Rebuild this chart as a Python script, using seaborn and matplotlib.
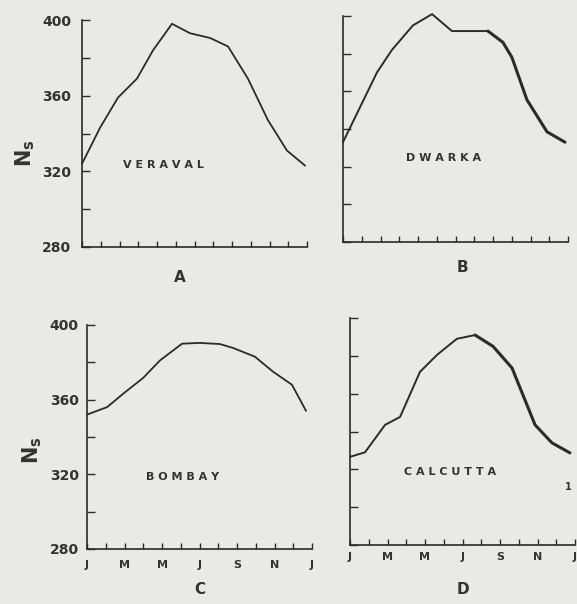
import matplotlib
matplotlib.use('Agg')
import matplotlib.pyplot as plt
import pandas as pd
import seaborn as sns

# ---- data ----
month_ticks = list(range(13))
month_labels = ['J', '', 'M', '', 'M', '', 'J', '', 'S', '', 'N', '', 'J']
y_ticks = [280, 300, 320, 340, 360, 380, 400]
y_labels = ['280', '', '320', '', '360', '', '400']

veraval_month = [0, 0.96, 1.92, 2.93, 3.79, 4.8, 5.76, 6.83, 7.79, 8.85, 9.92, 10.93, 11.9]
veraval_ns = [324, 343, 359, 369, 384, 398, 393, 390.5, 386, 369, 347, 331, 323]

dwarka_month = [0, 1.81, 2.61, 3.73, 4.75, 5.81, 7.73, 8.53, 9.01, 9.81, 10.88, 11.84]
dwarka_ns = [333, 370, 382, 395, 401, 392, 392, 386, 378, 355.5, 338.5, 333]

bombay_month = [0, 1.07, 2.03, 2.99, 3.89, 5.07, 6.03, 7.09, 7.79, 8.96, 9.92, 10.93, 11.36, 11.68]
bombay_ns = [352, 356, 364, 371.6, 381, 390, 390.4, 389.8, 387.7, 383, 375, 368, 360, 354]

calcutta_month = [0, 0.8, 1.87, 2.67, 3.73, 4.64, 5.7, 6.67, 7.63, 8.64, 9.87, 10.77, 11.73]
calcutta_ns = [326.6, 329, 343.5, 347.7, 371.5, 380.5, 389, 391, 385, 373.6, 343.5, 334, 328.7]

stations = ['VERAVAL', 'DWARKA', 'BOMBAY', 'CALCUTTA']
panel_letters = ['A', 'B', 'C', 'D']

# ---- style ----
sns.set_style('ticks')
plt.rcParams['font.family'] = ['DejaVu Sans']
BG = '#e9e9e7'
INK = '#2b2b2b'

W, H = 577, 604
fig = plt.figure(figsize=(W / 100, H / 100), dpi=100, facecolor=BG)


def px_rect(left, right, top, bottom):
    return [left / W, 1 - bottom / H, (right - left) / W, (bottom - top) / H]


axA = fig.add_axes(px_rect(82, 307, 20, 247))
axB = fig.add_axes(px_rect(343, 568, 16, 242))
axC = fig.add_axes(px_rect(87, 312, 325, 549))
axD = fig.add_axes(px_rect(350, 575, 318, 545))

series = [
    (axA, veraval_month, veraval_ns, None),
    (axB, dwarka_month, dwarka_ns, 6),
    (axC, bombay_month, bombay_ns, None),
    (axD, calcutta_month, calcutta_ns, 7),
]

line_kw = dict(color=INK, sort=False, clip_on=False,
               solid_capstyle='round', solid_joinstyle='round')

for i, (ax, mx, ns, thick_from) in enumerate(series):
    ax.set_facecolor(BG)
    df = pd.DataFrame({'month': mx, 'Ns': ns})
    if thick_from is None:
        sns.lineplot(data=df, x='month', y='Ns', ax=ax, lw=1.3, **line_kw)
    else:
        sns.lineplot(data=df.iloc[:thick_from + 1], x='month', y='Ns', ax=ax,
                     lw=1.4, **line_kw)
        sns.lineplot(data=df.iloc[thick_from:], x='month', y='Ns', ax=ax,
                     lw=2.2, **line_kw)
    ax.set_xlim(0, 12)
    ax.set_ylim(280, 400)
    ax.set_xlabel('')
    ax.set_ylabel('')
    for s in ['top', 'right']:
        ax.spines[s].set_visible(False)
    for s in ['left', 'bottom']:
        ax.spines[s].set_color(INK)
        ax.spines[s].set_linewidth(1.2)
    ax.set_yticks(y_ticks)
    ax.set_xticks(month_ticks)
    ax.tick_params(axis='y', direction='in', length=6, width=1.0, color=INK)
    ax.tick_params(axis='x', direction='in', length=4, width=1.0, color=INK)
    if i in (0, 2):
        ax.set_yticklabels(y_labels, fontsize=10, fontweight='bold', color='#333333')
        ax.tick_params(axis='y', pad=8 if i == 0 else 6)
    else:
        ax.set_yticklabels([])
    if i in (2, 3):
        ax.set_xticklabels(month_labels, fontsize=8, fontweight='bold', color='#333333')
        ax.tick_params(axis='x', pad=8 if i == 2 else 5)
    else:
        ax.set_xticklabels([])


def ftext(x, y, s, **kw):
    fig.text(x / W, 1 - y / H, s, ha='center', va='center', color='#333333', **kw)


# Ns labels
ftext(25, 153, r'$\mathbf{N_s}$', fontsize=15, rotation=90)
ftext(32, 450, r'$\mathbf{N_s}$', fontsize=15, rotation=90)

# station names
name_pos = [(163, 165), (444, 158), (183, 477), (450, 472)]
for name, (x, y) in zip(stations, name_pos):
    ftext(x, y, ' '.join(name), fontsize=8, fontweight='bold')

# panel letters
letter_pos = [(180, 277), (462, 268), (200, 590), (463, 590)]
for letter, (x, y) in zip(panel_letters, letter_pos):
    ftext(x, y, letter, fontsize=11, fontweight='bold')

# stray mark in panel D
ftext(568, 487, '1', fontsize=7, fontweight='bold')

fig.savefig('out.png', dpi=100, facecolor=BG)
